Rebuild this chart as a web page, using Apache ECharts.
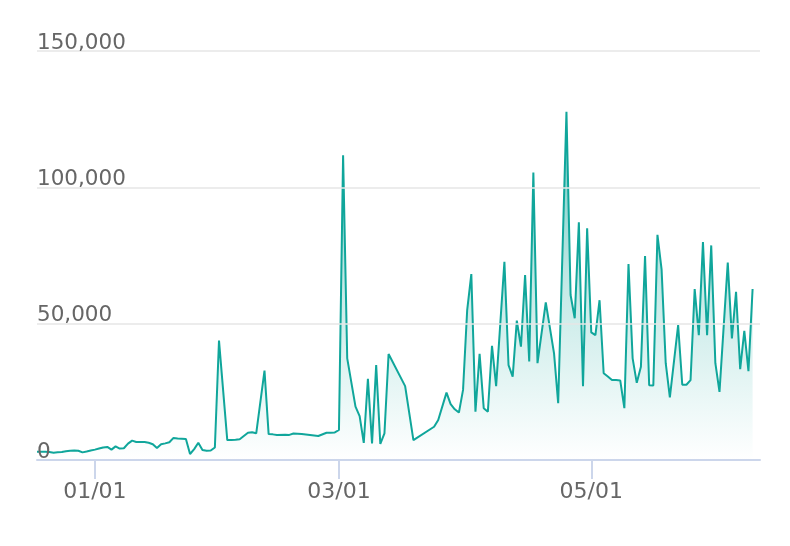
<!DOCTYPE html>
<html>
<head>
<meta charset="utf-8">
<script src="https://cdn.jsdelivr.net/npm/echarts@6/dist/echarts.min.js"></script>
<style>
html,body{margin:0;padding:0;background:#fff;}
#chart{width:790px;height:546px;}
</style>
</head>
<body>
<div id="chart"></div>
<script>
const dates = [
'2020-12-18','2020-12-19','2020-12-20','2020-12-21','2020-12-22','2020-12-23','2020-12-24','2020-12-25','2020-12-26','2020-12-27','2020-12-28','2020-12-29','2020-12-30','2020-12-31',
'2021-01-01','2021-01-02','2021-01-03','2021-01-04','2021-01-05','2021-01-06','2021-01-07','2021-01-08','2021-01-09','2021-01-10','2021-01-11','2021-01-12','2021-01-13','2021-01-14','2021-01-15','2021-01-16','2021-01-17','2021-01-18','2021-01-19','2021-01-20','2021-01-21','2021-01-22','2021-01-23','2021-01-24','2021-01-25','2021-01-26','2021-01-27','2021-01-28','2021-01-29','2021-01-30','2021-01-31',
'2021-02-02','2021-02-03','2021-02-04','2021-02-05','2021-02-06','2021-02-07','2021-02-08','2021-02-09','2021-02-11','2021-02-12','2021-02-13','2021-02-14','2021-02-16','2021-02-17','2021-02-18','2021-02-20','2021-02-24','2021-02-26','2021-02-27','2021-02-28',
'2021-03-01','2021-03-02','2021-03-03','2021-03-05','2021-03-06','2021-03-07','2021-03-08','2021-03-09','2021-03-10','2021-03-11','2021-03-12','2021-03-13','2021-03-17','2021-03-19','2021-03-24','2021-03-25','2021-03-27','2021-03-28','2021-03-29','2021-03-30','2021-03-31',
'2021-04-01','2021-04-02','2021-04-03','2021-04-04','2021-04-05','2021-04-06','2021-04-07','2021-04-08','2021-04-10','2021-04-11','2021-04-12','2021-04-13','2021-04-14','2021-04-15','2021-04-16','2021-04-17','2021-04-18','2021-04-20','2021-04-22','2021-04-23','2021-04-25','2021-04-26','2021-04-27','2021-04-28','2021-04-29','2021-04-30',
'2021-05-01','2021-05-02','2021-05-03','2021-05-04','2021-05-05','2021-05-06','2021-05-07','2021-05-08','2021-05-09','2021-05-10','2021-05-11','2021-05-12','2021-05-13','2021-05-14','2021-05-15','2021-05-16','2021-05-17','2021-05-18','2021-05-19','2021-05-20','2021-05-22','2021-05-23','2021-05-24','2021-05-25','2021-05-26','2021-05-27','2021-05-28','2021-05-29','2021-05-30','2021-05-31',
'2021-06-01','2021-06-03','2021-06-04','2021-06-05','2021-06-06','2021-06-07','2021-06-08','2021-06-09'
];
const values = [
3000,3000,3000,2900,2700,2800,2900,3200,3400,3500,3400,2800,3100,3500,
3800,4200,4600,4800,3800,5000,4200,4300,6000,7100,6600,6600,6600,6300,5800,4400,5800,6100,6500,8100,7900,7800,7700,2200,4000,6300,3700,3400,3500,4600,43800,
7300,7300,7400,7600,8800,10000,10200,9800,32800,9500,9400,9200,9300,9200,9700,9500,8800,10000,10000,10100,
11000,111800,37300,19600,16100,6300,29800,6100,34800,5900,9800,38900,27100,7300,12200,14700,24700,20500,18600,17400,25700,
55000,68200,17700,38900,19000,17700,41900,27100,72700,34800,30600,51100,41600,67800,36100,105400,35500,57800,39100,20800,127700,60500,52000,87200,27100,85000,
46800,45800,58600,31800,30600,29300,29300,29200,19000,71900,37300,28300,34200,74800,27400,27300,82600,69900,35500,23000,49500,27600,27600,29300,62700,45800,79900,45800,78700,35500,
25000,72400,44600,61700,33300,47400,32600,62700
];
const xTickDates = ['2021-01-01','2021-03-01','2021-05-01'];
const yTicks = [0, 50000, 100000, 150000];

function ts(s){ const p = s.split('-').map(Number); return new Date(p[0], p[1]-1, p[2]).getTime(); }
const seriesData = dates.map((d,i) => [ts(d), values[i]]);
const tickVals = xTickDates.map(ts);
const teal = '#10a69b';

const chart = echarts.init(document.getElementById('chart'), null, {renderer:'canvas'});
chart.setOption({
  animation: false,
  backgroundColor: '#ffffff',
  grid: { left: 37, right: 30, top: 51, bottom: 86, containLabel: false },
  xAxis: {
    type: 'value',
    min: ts('2020-12-18'),
    max: new Date(2021, 5, 10, 19).getTime(),
    axisLine: { show: true, onZero: false, lineStyle: { color: '#ccd6eb', width: 2 } },
    axisTick: { show: true, length: 19, lineStyle: { color: '#ccd6eb', width: 2 }, customValues: tickVals },
    axisLabel: {
      customValues: tickVals,
      margin: 21,
      color: '#666666',
      fontSize: 22,
      fontFamily: 'DejaVu Sans',
      formatter: function (v) {
        const d = new Date(v);
        const mm = String(d.getMonth()+1).padStart(2,'0');
        const dd = String(d.getDate()).padStart(2,'0');
        return mm + '/' + dd;
      }
    },
    splitLine: { show: false },
    z: 6
  },
  yAxis: {
    type: 'value',
    min: yTicks[0],
    max: yTicks[yTicks.length-1],
    interval: 50000,
    axisLine: { show: false },
    axisTick: { show: false },
    axisLabel: {
      inside: true,
      margin: 0,
      verticalAlign: 'bottom',
      lineHeight: 16,
      color: '#666666',
      fontSize: 21.5,
      fontFamily: 'DejaVu Sans',
      formatter: function (v) { return v.toLocaleString('en-US'); }
    },
    splitLine: { show: true, lineStyle: { color: '#e6e6e6', width: 1.5 } },
    z: 5
  },
  series: [{
    type: 'line',
    data: seriesData,
    showSymbol: false,
    symbol: 'none',
    lineStyle: { color: teal, width: 2 },
    itemStyle: { color: teal },
    areaStyle: {
      color: new echarts.graphic.LinearGradient(0, 0, 0, 1, [
        { offset: 0, color: 'rgba(16,166,155,0.9)' },
        { offset: 0.5, color: 'rgba(16,166,155,0.35)' },
        { offset: 1, color: 'rgba(16,166,155,0.0)' }
      ])
    },
    z: 2
  }]
});
</script>
</body>
</html>
